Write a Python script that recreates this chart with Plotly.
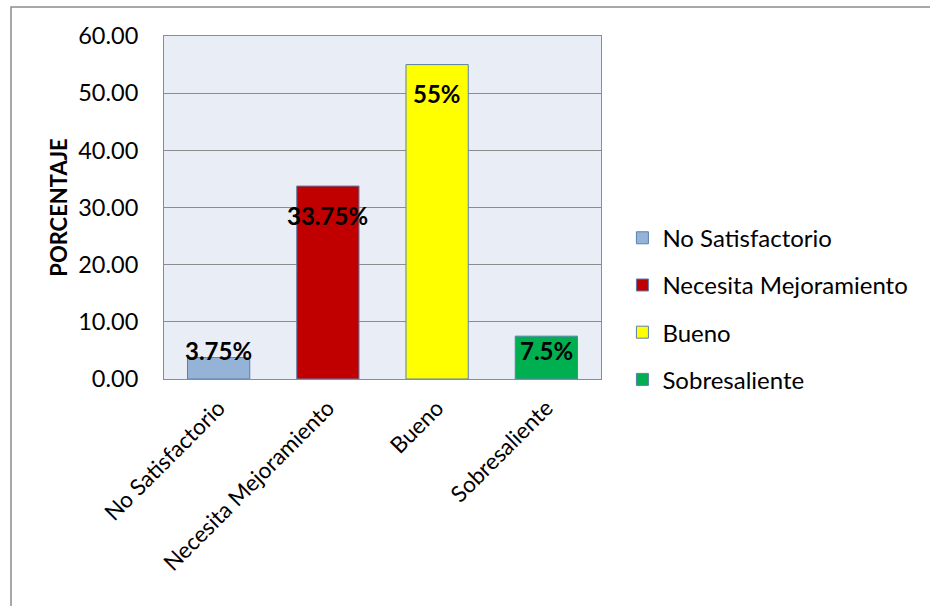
import plotly.graph_objects as go

categories = ["No Satisfactorio", "Necesita Mejoramiento", "Bueno", "Sobresaliente"]
values = [3.75, 33.75, 55, 7.5]
labels = ["3.75%", "33.75%", "55%", "7.5%"]
colors = ["#95B3D7", "#C00000", "#FFFF00", "#00B050"]
y_ticks = [0, 10, 20, 30, 40, 50, 60]

FONT = "Lato, 'Open Sans', sans-serif"

fig = go.Figure()
for i, (c, v, col) in enumerate(zip(categories, values, colors)):
    fig.add_trace(go.Bar(
        x=[c], y=[v], name=c, width=0.57,
        marker=dict(color=col, line=dict(color="#5A7FAE", width=1)),
        legendgroup=f"g{i}",
    ))

# data labels ("inside end" style, clamped for short bars)
y_per_px = 60 / 343.0
for c, v, t in zip(categories, values, labels):
    ypos = max(v - 29 * y_per_px, 29 * y_per_px)
    fig.add_annotation(x=c, y=ypos, text=f"<b>{t}</b>", showarrow=False,
                       xanchor="center", yanchor="middle",
                       font=dict(family=FONT, size=24, color="#000000"))

fig.update_layout(
    width=930, height=606,
    margin=dict(l=164, r=329, t=36, b=227),
    paper_bgcolor="white",
    plot_bgcolor="#E9EDF5",
    barmode="overlay",
    showlegend=True,
    legend=dict(x=1.049, y=0.205, xanchor="left", yanchor="middle",
                font=dict(family=FONT, size=24, color="#000000"),
                tracegroupgap=13, bgcolor="rgba(0,0,0,0)"),
    font=dict(family=FONT, color="#000000"),
)
fig.update_xaxes(
    categoryorder="array", categoryarray=categories,
    tickangle=-45, tickfont=dict(family=FONT, size=22.5, color="#000000"),
    showline=True, linecolor="#8C8C8C", linewidth=1, mirror=True,
    ticks="", showgrid=False, ticklabelstandoff=6,
)
fig.update_yaxes(
    range=[0, 60], tickvals=y_ticks, tickformat=".2f",
    tickfont=dict(family=FONT, size=23.5, color="#000000"),
    showgrid=True, gridcolor="#8C8C8C", gridwidth=1,
    showline=True, linecolor="#8C8C8C", linewidth=1, mirror=True,
    ticks="", ticklen=0, zeroline=False, ticklabelstandoff=20,
    title=dict(text="<b>PORCENTAJE</b>", font=dict(family=FONT, size=22, color="#000000"), standoff=4),
)

# outer chart border (top and left visible)
fig.add_shape(type="rect", xref="paper", yref="paper",
              x0=(11 - 164) / 437, x1=(940 - 164) / 437,
              y0=(379 - 620) / 343, y1=(379 - 7) / 343,
              line=dict(color="#8C8C8C", width=1.5), fillcolor="rgba(0,0,0,0)", layer="below")

fig.write_html("out.html")
